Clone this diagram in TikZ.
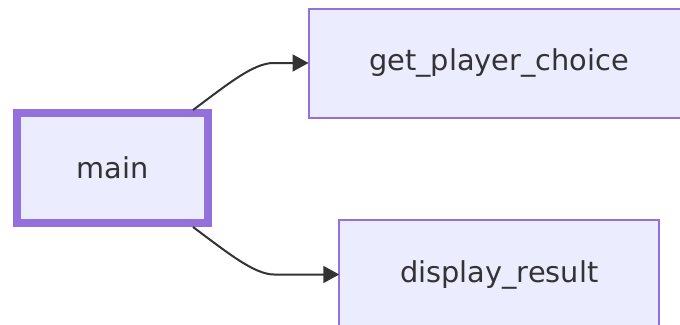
\documentclass[tikz,border=0pt]{standalone}
\usepackage{fontspec}
\setmainfont{DejaVu Sans}
\usetikzlibrary{arrows.meta}
\definecolor{nodefill}{HTML}{ECECFF}
\definecolor{nodeline}{HTML}{9370DB}
\definecolor{ink}{HTML}{333333}
\tikzset{
  fnbox/.style={draw=nodeline, fill=nodefill, line width=2pt, text=ink,
    font=\fontsize{28.8}{34}\selectfont, inner sep=0pt, outer sep=0pt},
  link/.style={draw=ink, line width=2pt, -{Triangle[length=16pt,width=17pt]}}
}
\begin{document}
\begin{tikzpicture}[x=1pt,y=-1pt]
\useasboundingbox (0,0) rectangle (680,324);
\clip (0,0) rectangle (680,324);
\node[fnbox, line width=8pt, minimum width=191pt, minimum height=110pt] (main) at (112.5,168) {main};
\node[fnbox, minimum width=381pt, minimum height=109pt] (gpc) at (499,63) {get\_player\_choice};
\node[fnbox, minimum width=320pt, minimum height=110pt] (dr) at (499.25,274.5) {display\_result};
\coordinate (s1) at ([xshift=-15pt,yshift=3pt]main.north east);
\coordinate (s2) at ([xshift=-15pt,yshift=-4pt]main.south east);
\draw[link] (s1) .. controls ([xshift=35pt,yshift=26pt]s1) and ([xshift=-55pt]gpc.west) .. ([xshift=-35pt]gpc.west) -- (gpc.west);
\draw[link] (s2) .. controls ([xshift=35pt,yshift=-26pt]s2) and ([xshift=-85pt]dr.west) .. ([xshift=-65pt]dr.west) -- (dr.west);
\end{tikzpicture}
\end{document}
